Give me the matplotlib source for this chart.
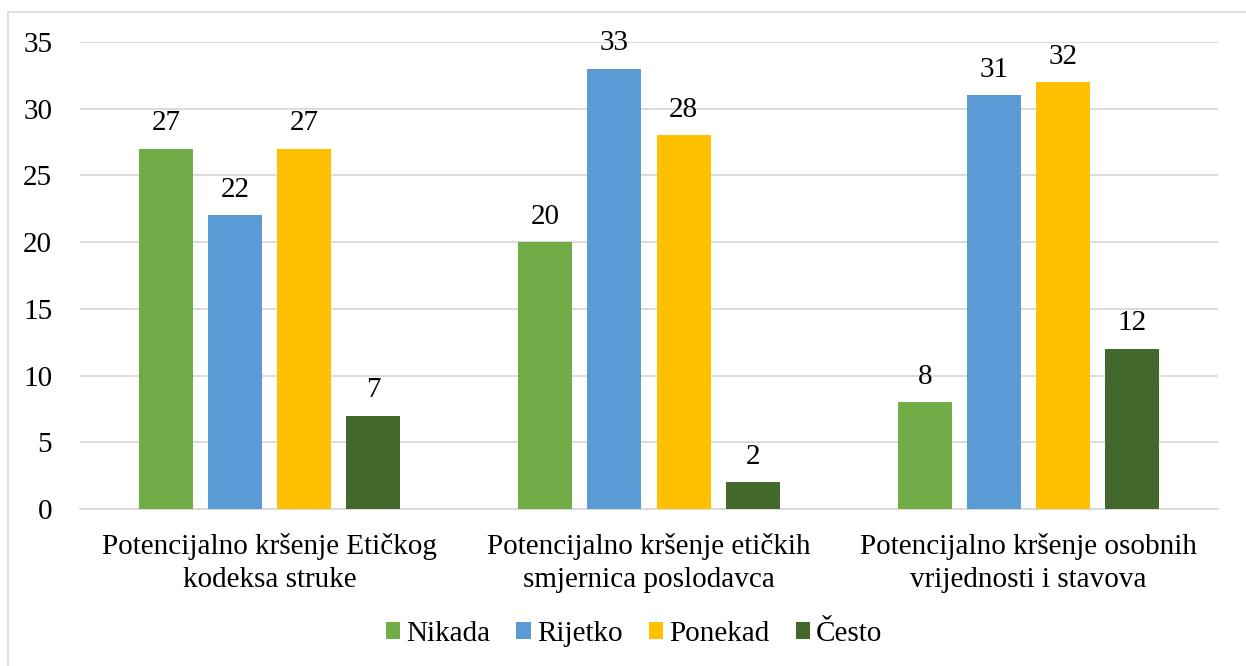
import numpy as np
import matplotlib.pyplot as plt
from matplotlib.lines import Line2D

kategorije = ['Potencijalno kršenje Etičkog\nkodeksa struke',
              'Potencijalno kršenje etičkih\nsmjernica poslodavca',
              'Potencijalno kršenje osobnih\nvrijednosti i stavova']
serije = ['Nikada', 'Rijetko', 'Ponekad', 'Često']
nikada = [27, 20, 8]
rijetko = [22, 33, 31]
ponekad = [27, 28, 32]
cesto = [7, 2, 12]
boje = ['#70AD47', '#5B9BD5', '#FFC000', '#43682B']

plt.rcParams['font.family'] = ['Liberation Serif', 'DejaVu Serif']
fs = 21

W, H = 1246, 666
fig = plt.figure(figsize=(W / 100, H / 100), dpi=100)

## okvir grafikona (lijevi i gornji rub)
fig.add_artist(Line2D([8 / W, 8 / W], [0, 1 - 12 / H], color='#D9D9D9', lw=1.2))
fig.add_artist(Line2D([8 / W, 1], [1 - 12 / H, 1 - 12 / H], color='#D9D9D9', lw=1.2))

ax = fig.add_axes([80 / W, 157 / H, 1138 / W, 467 / H])

x = np.arange(len(kategorije))
sirina = 54 / 379
korak = 69 / 379
for i, (ime, vrijednosti) in enumerate(zip(serije, [nikada, rijetko, ponekad, cesto])):
    pomak = (i - 1.5) * korak
    stupci = ax.bar(x + pomak, vrijednosti, sirina, color=boje[i], label=ime, zorder=3)
    ax.bar_label(stupci, padding=9, fontsize=fs)

ax.set_xlim(-0.5, 2.5)
ax.set_ylim(0, 35)
ax.set_yticks(range(0, 36, 5))
ax.grid(axis='y', color='#D9D9D9', lw=1.3, zorder=0)
for s in ['left', 'right', 'top']:
    ax.spines[s].set_visible(False)
ax.spines['bottom'].set_color('#D9D9D9')
ax.spines['bottom'].set_linewidth(1.3)
ax.tick_params(axis='y', length=0, pad=20, labelsize=fs)
ax.tick_params(axis='x', length=0, pad=17, labelsize=fs)
ax.set_xticks(x)
ax.set_xticklabels(kategorije, linespacing=1.36)

fig.legend(loc='center', bbox_to_anchor=(634 / W, 1 - 634 / H), ncol=4, frameon=False,
           fontsize=fs, handlelength=0.5, handleheight=0.5, handletextpad=0.2,
           columnspacing=0.9)

fig.savefig('out.png', dpi=100)
